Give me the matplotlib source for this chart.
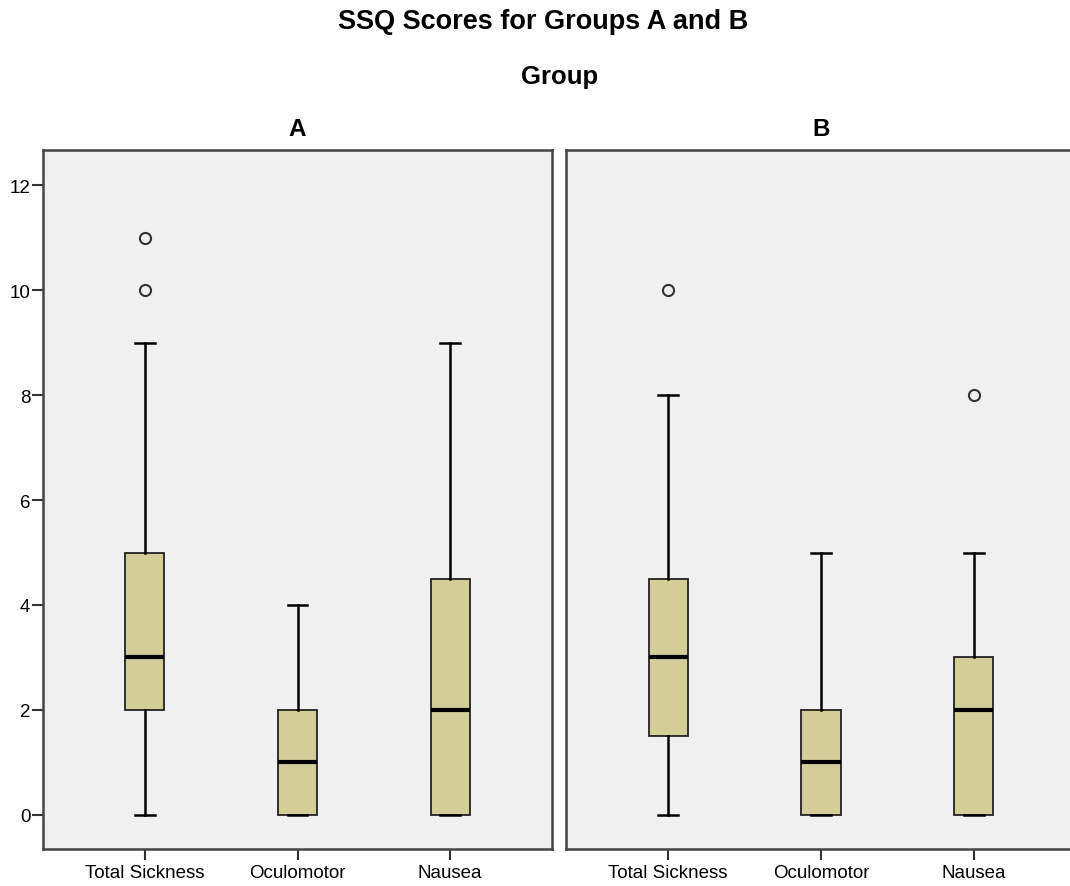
import matplotlib.pyplot as plt

plt.rcParams['font.family'] = ['Liberation Sans', 'DejaVu Sans']

measures = ["Total Sickness", "Oculomotor", "Nausea"]
groups = ["A", "B"]

# summary statistics per group, in the order of `measures`
whislo = {"A": [0, 0, 0], "B": [0, 0, 0]}
q1 = {"A": [2, 0, 0], "B": [1.5, 0, 0]}
med = {"A": [3, 1, 2], "B": [3, 1, 2]}
q3 = {"A": [5, 2, 4.5], "B": [4.5, 2, 3]}
whishi = {"A": [9, 4, 9], "B": [8, 5, 5]}
fliers = {"A": [[10, 11], [], []], "B": [[10], [], [8]]}

box_color = "#d3ce97"
bg_color = "#f0f0f0"
edge = "#222222"

fig = plt.figure(figsize=(10.7, 8.87), dpi=100)
W, H = 1070, 887
panels = {"A": (43, 552), "B": (566, 1076)}
top, bottom = 151, 850

for g in groups:
    x0, x1 = panels[g]
    ax = fig.add_axes([x0 / W, 1 - bottom / H, (x1 - x0) / W, (bottom - top) / H])
    ax.set_facecolor(bg_color)
    stats = []
    for i, m in enumerate(measures):
        stats.append(dict(label=m, whislo=whislo[g][i], q1=q1[g][i], med=med[g][i],
                          q3=q3[g][i], whishi=whishi[g][i], fliers=fliers[g][i]))
    ax.bxp(stats, positions=[0, 1, 2], widths=0.255, patch_artist=True,
           boxprops=dict(facecolor=box_color, edgecolor=edge, linewidth=1.3),
           medianprops=dict(color="black", linewidth=3),
           whiskerprops=dict(color="black", linewidth=1.8),
           capprops=dict(color="black", linewidth=1.8),
           capwidths=0.13,
           flierprops=dict(marker="o", markersize=8, markerfacecolor="none",
                           markeredgecolor="#333333", markeredgewidth=1.5))
    ax.set_xlim(-0.667, 2.667)
    ax.set_ylim(-0.65, 12.67)
    ax.set_yticks(range(0, 13, 2))
    ax.tick_params(axis="both", direction="out", length=8, width=1.5,
                   color="#333333", labelsize=13.5)
    ax.tick_params(axis="x", pad=3)
    ax.tick_params(axis="y", pad=1)
    for s in ax.spines.values():
        s.set_color("#444444")
        s.set_linewidth(1.8)
    if g == "B":
        ax.tick_params(axis="y", left=False, labelleft=False)
    ax.text(0.5, 1.015, g, transform=ax.transAxes, ha="center", va="bottom",
            fontsize=17.5, fontweight="bold")

fig.text(543 / W, 1 - 22 / H, "SSQ Scores for Groups A and B", ha="center",
         va="center", fontsize=19.5, fontweight="bold")
fig.text(560 / W, 1 - 77 / H, "Group", ha="center", va="center",
         fontsize=18.5, fontweight="bold")

fig.savefig("out.png", dpi=100, facecolor="white")
